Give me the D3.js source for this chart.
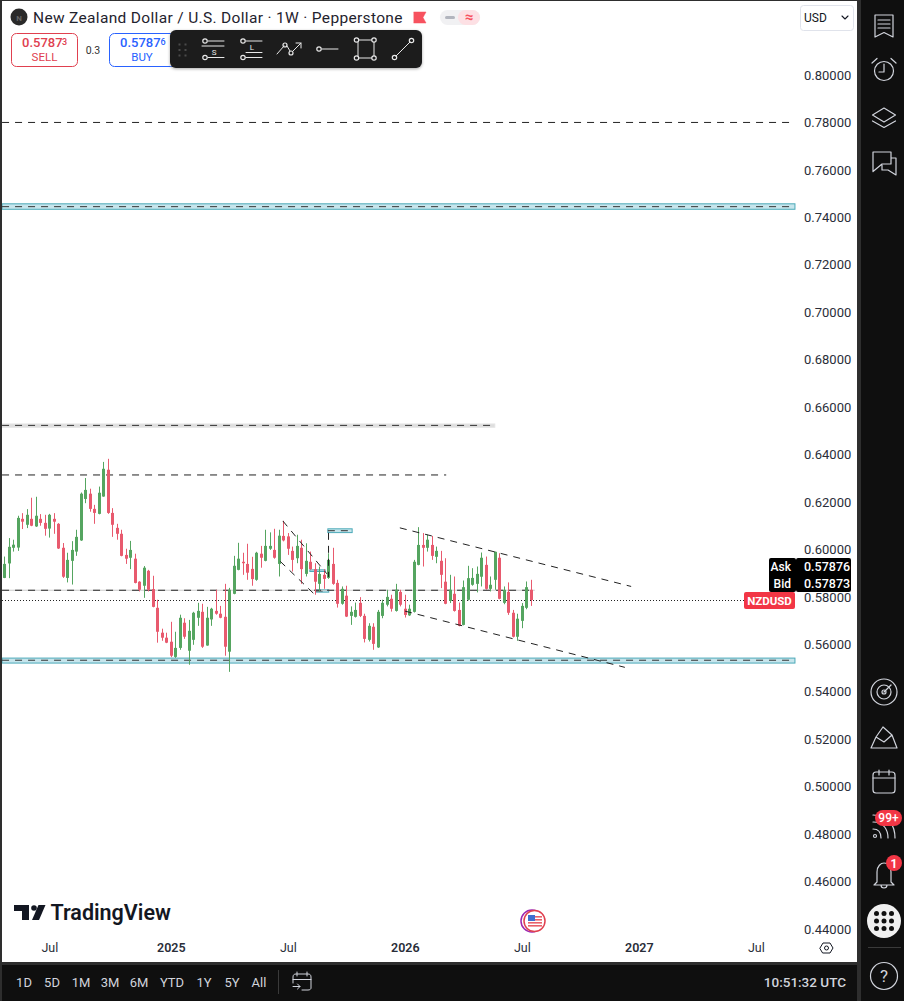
<!DOCTYPE html>
<html><head><meta charset="utf-8"><style>html,body{margin:0;padding:0;background:#fff;overflow:hidden}svg{display:block}text{font-family:Roboto,sans-serif}</style>
<script src="https://cdn.jsdelivr.net/npm/d3@7/dist/d3.min.js"></script></head><body><svg id="c" width="904" height="1001"></svg>
<script>
const opens=[.5880,.5941,.6007,.6008,.6129,.6104,.6129,.6097,.6129,.6112,.6088,.6129,.6108,.6007,.5880,.5952,.5991,.6038,.6213,.6235,.6171,.6150,.6223,.6336,.6154,.6091,.6066,.5977,.5965,.5961,.5864,.5847,.5910,.5833,.5754,.5649,.5628,.5611,.5547,.5585,.5691,.5573,.5619,.5712,.5737,.5595,.5705,.5741,.5729,.5716,.5569,.5813,.5914,.5948,.5939,.5918,.5872,.5982,.5952,.6003,.5998,.5939,.6057,.6055,.5994,.5963,.6007,.5897,.5948,.5917,.5855,.5893,.5880,.5939,.5859,.5771,.5805,.5720,.5716,.5775,.5720,.5619,.5674,.5587,.5720,.5767,.5792,.5741,.5821,.5750,.5722,.5737,.5935,.6019,.6007,.6019,.5969,.5952,.5864,.5783,.5813,.5745,.5682,.5788,.5851,.5855,.5885,.5935,.5834,.5872,.5965,.5775,.5821,.5733,.5632,.5699,.5754,.5830];
const highs=[.5970,.6048,.6041,.6142,.6153,.6170,.6218,.6222,.6149,.6146,.6150,.6153,.6111,.6027,.5986,.6035,.6083,.6240,.6301,.6256,.6188,.6265,.6369,.6382,.6174,.6108,.6083,.6003,.6036,.5982,.5866,.5930,.5914,.5889,.5788,.5666,.5649,.5695,.5653,.5725,.5710,.5703,.5737,.5775,.5771,.5758,.5754,.5830,.5762,.5855,.5838,.5973,.6028,.5986,.6024,.5969,.5990,.6015,.6083,.6072,.6087,.6083,.6121,.6069,.6012,.6062,.6041,.6026,.5991,.5942,.5928,.5917,.5984,.6007,.5872,.5844,.5847,.5760,.5776,.5799,.5729,.5689,.5689,.5745,.5788,.5830,.5809,.5855,.5830,.5809,.5767,.5956,.6094,.6069,.6062,.6057,.6012,.5994,.5963,.5893,.5886,.5776,.5869,.5931,.5921,.5928,.5987,.5970,.5886,.5991,.5984,.5844,.5861,.5745,.5729,.5774,.5865,.5872];
const lows=[.5879,.5879,.5991,.5994,.6086,.6090,.6098,.6095,.6100,.6058,.6050,.6066,.6002,.5880,.5861,.5852,.5973,.6036,.6195,.6159,.6108,.6148,.6222,.6150,.6053,.6041,.5971,.5939,.5917,.5857,.5823,.5796,.5823,.5756,.5607,.5615,.5605,.5546,.5543,.5577,.5623,.5514,.5598,.5678,.5585,.5594,.5678,.5725,.5710,.5552,.5484,.5811,.5912,.5893,.5872,.5847,.5868,.5923,.5950,.5998,.5961,.5886,.6034,.5977,.5907,.5942,.5855,.5886,.5914,.5809,.5823,.5834,.5876,.5851,.5755,.5767,.5715,.5682,.5713,.5715,.5608,.5612,.5577,.5585,.5710,.5760,.5738,.5738,.5760,.5713,.5720,.5734,.5933,.5928,.5991,.5956,.5942,.5837,.5769,.5774,.5738,.5676,.5680,.5785,.5847,.5819,.5844,.5830,.5823,.5830,.5790,.5769,.5724,.5629,.5615,.5668,.5748,.5762];
const closes=[.5939,.6011,.6020,.6133,.6117,.6146,.6100,.6142,.6112,.6087,.6146,.6117,.6004,.5885,.5956,.5998,.6053,.6235,.6251,.6171,.6154,.6239,.6340,.6154,.6104,.6066,.5973,.5961,.5998,.5859,.5830,.5923,.5830,.5758,.5653,.5628,.5607,.5552,.5585,.5712,.5632,.5657,.5733,.5741,.5590,.5712,.5750,.5729,.5712,.5590,.5830,.5931,.5961,.5942,.5902,.5875,.5986,.5965,.6015,.6015,.5965,.6058,.6038,.6003,.5956,.6015,.5917,.5952,.5917,.5864,.5897,.5876,.5956,.5855,.5771,.5834,.5717,.5737,.5745,.5720,.5623,.5678,.5602,.5737,.5775,.5800,.5750,.5830,.5767,.5724,.5750,.5948,.6019,.6007,.6041,.5973,.5994,.5893,.5771,.5830,.5741,.5678,.5841,.5879,.5880,.5897,.5965,.5834,.5851,.5990,.5792,.5830,.5733,.5632,.5708,.5762,.5841,.5787];
const priceTicks=[.80,.78,.76,.74,.72,.70,.68,.66,.64,.62,.60,.58,.56,.54,.52,.50,.48,.46,.44];
const weekTicks=[10,37,63,89,115,141,167];
const weekLabels=["Jul","2025","Jul","2026","Jul","2027","Jul"];
const rangeLabels=["1D","5D","1M","3M","6M","YTD","1Y","5Y","All"];
// drawings, in [week index, price]
const bands=[[-0.5,175.7,.7457,.7434,.7445,"t"],[-0.5,109,.6529,.6515,.6523,"g"],[-0.5,175.7,.5542,.5521,.5533,"t"],[71.9,77.3,.6087,.6071,.6079,"t"],[67.9,71.3,.5914,.5907,null,"t"],[69.2,72.1,.5830,.5820,.5825,"t"]];
const hDashes=[[-0.5,175.7,.78],[-0.5,98.2,.6314],[-0.5,117.9,.5828]];
const trends=[[87.9,.6091,139.3,.5844],[89.05,.5740,137.9,.5503],[61.9,.6120,71.7,.5897],[61.3,.5950,69.2,.5806],[72.05,.6070,72.05,.5884]];
const bidPrice=.57873, askPrice=.57876;

const svg=d3.select("#c");
const x=d3.scaleLinear().domain([0,117]).range([4.3,530.8]);
const y=d3.scaleLinear().domain([.44,.80]).range([929,75]);
const px=v=>Math.round(v)+.5;
const GREEN="#55a560",RED="#e85a6e",TEAL="#4ba9b8",DARK="#0f0f0f",EDGE="#2e2e2e";

svg.append("rect").attr("width",904).attr("height",1001).attr("fill","#fff");
// bands
bands.forEach(b=>{
 const tl=b[5]=="t";
 svg.append("rect").attr("x",x(b[0])).attr("width",x(b[1])-x(b[0])).attr("y",y(b[2])).attr("height",y(b[3])-y(b[2]))
  .attr("fill",tl?"#c6e5ec":"#dedede").attr("stroke",tl?TEAL:"#e4e4e4").attr("stroke-width",1);
 if(b[4]!=null) svg.append("line").attr("x1",x(b[0])).attr("x2",x(b[1])).attr("y1",y(b[4])).attr("y2",y(b[4])).attr("stroke","#333").attr("stroke-dasharray","7 6");
});
hDashes.forEach((d,i)=>{
 if(i==2) svg.append("line").attr("x1",x(d[0])).attr("x2",x(d[1])).attr("y1",y(d[2])).attr("y2",y(d[2])).attr("stroke","#ccc");
 svg.append("line").attr("x1",x(d[0])).attr("x2",x(d[1])).attr("y1",y(d[2])).attr("y2",y(d[2])).attr("stroke","#222").attr("stroke-dasharray","7 6");
});
// dotted last price
svg.append("line").attr("x1",2).attr("x2",745).attr("y1",px(y(bidPrice))).attr("y2",px(y(bidPrice))).attr("stroke","#222").attr("stroke-dasharray","1 2");
// candles
const g=svg.append("g");
opens.forEach((o,i)=>{
 const c=closes[i],col=c>=o?GREEN:RED,cx=x(i);
 g.append("line").attr("x1",Math.round(cx)+.5).attr("x2",Math.round(cx)+.5).attr("y1",y(highs[i])).attr("y2",y(lows[i])).attr("stroke",col);
 g.append("rect").attr("x",Math.round(cx)-1).attr("width",3).attr("y",y(Math.max(o,c))).attr("height",Math.max(1,Math.abs(y(o)-y(c)))).attr("fill",col);
});
trends.forEach(t=>svg.append("line").attr("x1",x(t[0])).attr("y1",y(t[1])).attr("x2",x(t[2])).attr("y2",y(t[3])).attr("stroke","#222").attr("stroke-dasharray","7 6"));

// axes
const ay=d3.axisRight(y).tickValues(priceTicks).tickSize(0).tickFormat(d=>d.toFixed(5));
const ya=svg.append("g").attr("transform","translate(804,0)").call(ay);
ya.select(".domain").remove();
ya.selectAll("text").attr("x",0).attr("dy","0.32em").attr("fill","#2a2e39").attr("font-size",13).attr("font-family","Roboto");
const ax=d3.axisBottom(x).tickValues(weekTicks).tickSize(0).tickFormat((d,i)=>weekLabels[i]);
const xa=svg.append("g").attr("transform","translate(0,943)").call(ax);
xa.select(".domain").remove();
xa.selectAll("text").attr("y",0).attr("dy",".75em").attr("fill","#2a2e39").attr("font-size",12.5).attr("font-family","Roboto")
  .attr("font-weight",(d,i)=>/20/.test(weekLabels[i])?600:400);

function T(s,xx,yy,o={}){return svg.append("text").text(s).attr("x",xx).attr("y",yy).attr("font-size",o.size||13).attr("fill",o.fill||"#131722").attr("text-anchor",o.anchor||"start").attr("font-weight",o.w||400).attr("letter-spacing",o.ls||null);}
function P(d,o={}){return svg.append("path").attr("d",d).attr("fill",o.fill||"none").attr("stroke",o.stroke||"#d1d4dc").attr("stroke-width",o.sw||1.2).attr("stroke-linejoin","round").attr("stroke-linecap","round");}
function C(cx,cy,r,o={}){return svg.append("circle").attr("cx",cx).attr("cy",cy).attr("r",r).attr("fill",o.fill||"none").attr("stroke",o.stroke||"none").attr("stroke-width",o.sw||1.2);}
function R(a,b,w,h,o={}){return svg.append("rect").attr("x",a).attr("y",b).attr("width",w).attr("height",h).attr("rx",o.r||0).attr("fill",o.fill||"none").attr("stroke",o.stroke||"none").attr("stroke-width",o.sw||1);}

// header
C(19,17,8.5,{fill:"#2a2a2a"});T("N",19,20.5,{size:8,fill:"#666",anchor:"middle",w:700});
T("New Zealand Dollar / U.S. Dollar · 1W · Pepperstone",33,23,{size:15.5,fill:"#1f232e",ls:.33});
P("M414 12H426L423 17.5L426 23H414Z",{fill:"#f7525f",stroke:"#f7525f",sw:.5});
R(440,10,40,15,{r:7.5,fill:"#f1f1f3"});R(445,16,10,3,{r:1.5,fill:"#b2b5be"});
R(458,10,22,15,{r:7.5,fill:"#fde0e4"});T("≈",469,22,{size:15,fill:"#f7525f",anchor:"middle",w:700});
R(11.5,33.5,66,33,{r:5,fill:"#fff",stroke:"#e0404f"});
T("0.5787",22,47,{size:13,fill:"#e0404f",w:500});T("3",62,45,{size:9,fill:"#e0404f",w:500});
T("SELL",44.5,61,{size:11.5,fill:"#e0404f",anchor:"middle"});
T("0.3",93,54,{size:10.5,fill:"#333",anchor:"middle"});
R(109.5,33.5,66,33,{r:5,fill:"#fff",stroke:"#2962ff"});
T("0.5787",120,47,{size:13,fill:"#2962ff",w:500});T("6",160.5,45,{size:9,fill:"#2962ff",w:500});
T("BUY",142,61,{size:11.5,fill:"#2962ff",anchor:"middle"});
// toolbar
svg.append("defs").html('<filter id="s" x="-5%" y="-20%" width="110%" height="140%"><feDropShadow dx="0" dy="1" stdDeviation="1.5" flood-opacity=".35"/></filter>');
R(170,30,252,38,{r:6,fill:"#1b1b1d"}).attr("filter","url(#s)");
[0,1,2].forEach(r=>[0,1].forEach(c=>R(178.5+c*6,43.5+r*5.5,2,2,{fill:"#4a4a4a"})));
const W="#e8e8e8";
C(205,41,2.2,{stroke:W});C(205,57.5,2.2,{stroke:W});P("M208 41H224M202 46H224M208 57.5H224",{stroke:W,sw:1});T("S",214,55,{size:8,fill:W,anchor:"middle"});
C(243,41,2.2,{stroke:W});C(243,57.5,2.2,{stroke:W});P("M246 41H262M246 52.5H262M246 57.5H262",{stroke:W,sw:1});T("L",252,50,{size:8,fill:W,anchor:"middle"});
P("M277 54L284 46M287 46L290 51M293 51L301 43M296 43H301V48",{stroke:W,sw:1});C(285,45,2,{stroke:W});C(291,53,2,{stroke:W});
C(319,49,2.2,{stroke:W});P("M322 49H338",{stroke:W,sw:1});
R(358,40,16,18,{stroke:W,sw:1});[[356.5,40],[374,40],[356.5,58],[374,58]].forEach(p=>C(p[0],p[1],2.2,{stroke:W,fill:"#1b1b1d"}));
P("M396 56L410 42",{stroke:W,sw:1});C(394.5,57.5,2.2,{stroke:W});C(411.5,40.5,2.2,{stroke:W});
// USD
R(800.5,5.5,53,25,{r:3,stroke:"#e0e3eb"});T("USD",804,22,{size:12,fill:"#131722"});P("M842 16L845 19L848 16",{stroke:"#131722",sw:1.1});
// price labels
R(769,558,27,34,{r:2,fill:"#000"});R(796,558,55,34,{r:2,fill:"#000"});
T("Ask",791,571,{size:12,fill:"#fff",anchor:"end",w:500});T("Bid",791,588,{size:12,fill:"#fff",anchor:"end",w:500});
T(askPrice.toFixed(5),804,571,{size:12.5,fill:"#fff",w:500});T(bidPrice.toFixed(5),804,588,{size:12.5,fill:"#fff",w:500});
R(744,592,51,17,{r:2,fill:"#f23645"});T("NZDUSD",769.5,605,{size:11.5,fill:"#fff",anchor:"middle",w:700});
// logo
P("M14 905H29V920H22V911H14Z",{fill:"#131722",stroke:"none"});C(34,908,2.8,{fill:"#131722"});
P("M38.5 905H45.5L39 920H32Z",{fill:"#131722",stroke:"none"});
T("TradingView",50.5,920,{size:21.5,fill:"#131722",w:600});
// flag
C(532,921,11,{stroke:"#9c27b0",fill:"#fff",sw:1.5});C(534.5,921,10.5,{fill:"#fff",stroke:"#e0404f",sw:1.5});
[0,1,2,3].forEach(k=>R(528,916+k*3,14,1.6,{fill:"#e8606a"}));R(528,915,7,6,{fill:"#3f6fd0"});
// settings
P("M820 948L823 943H830L833 948L830 953H823Z",{stroke:"#131722",sw:1});C(826.5,948,2,{stroke:"#131722",sw:1});

// frame
R(0,0,2,1001,{fill:EDGE});R(0,0,904,1,{fill:EDGE});
R(857,0,47,1001,{fill:EDGE});R(861,0,43,1001,{fill:DARK});
R(0,962,857,39,{fill:EDGE});R(2,965,855,36,{fill:DARK});
// bottom bar
const rx=[24,52,81,110,139,172,204,232,259];
rangeLabels.forEach((s,i)=>T(s,rx[i],987,{size:13,fill:"#d1d4dc",anchor:"middle"}));
R(278,970,1,24,{fill:"#3a3a3a"});
P("M293 983V977C293 975 294 974 296 974H308C310 974 311 975 311 977V988C311 989 310 990 308 990H302M293 979.5H311M297 972V976M307 972V976M293 986.5H300M297.5 984L300 986.5L297.5 989",{sw:1});
T("10:51:32 UTC",846,987,{size:13.5,fill:"#d1d4dc",anchor:"end",w:500});
// sidebar icons
const S="#d1d4dc";
P("M875 15H893V37L884 32.5L875 37ZM878 20H890M878 24H890M878 28H890",{stroke:S});
C(884,71,9.5,{stroke:S});P("M884 64V72H879M872 63L877 58.5M896 63L891 58.5",{stroke:S});
P("M872.5 115L884 108L895.5 115L884 122ZM872.5 121L884 127.5L895.5 121",{stroke:S});
P("M873 152H891V164H882L873 171.5ZM891 158H896V175L888 170H882V165",{stroke:S});
C(884,692,13,{stroke:S});C(884,692,7,{stroke:S});C(884,692,2,{stroke:S});P("M884 692L891 685",{stroke:S});
P("M883 727L876 737L884 742L892 735ZM876 737L871 748H897L892 735",{stroke:S});
R(873,772,22,21,{r:3,stroke:S,sw:1.2});P("M873 778H895M879 770V775M889 770V775",{stroke:S});
C(875,836,1.5,{stroke:S});P("M873 829C879 829 881 833 881 838M873 822C884 822 888 830 888 838M873 815C889 815 895 826 895 838",{stroke:S});
R(875,810,27,16,{r:8,fill:"#f23645"});T("99+",888.5,822,{size:12,fill:"#fff",anchor:"middle",w:500});
P("M877 882V872C877 866 881 863 884 863C888 863 891 866 891 872V882L894 885H874ZM881 885C881 889 887 889 887 885",{stroke:S});
C(894,863,8,{fill:"#f23645"});T("1",894,867.5,{size:12,fill:"#fff",anchor:"middle",w:700});
C(884,921,17,{fill:"#f0f0f0"});
[0,1,2].forEach(r=>[0,1,2].forEach(c=>C(876.5+c*7.5,913.5+r*7.5,2.5,{fill:"#111"})));
R(868,947,33,1,{fill:"#3a3a3a"});
C(884,976,13.5,{stroke:S});T("?",884,982,{size:17,fill:S,anchor:"middle"});
</script></body></html>
